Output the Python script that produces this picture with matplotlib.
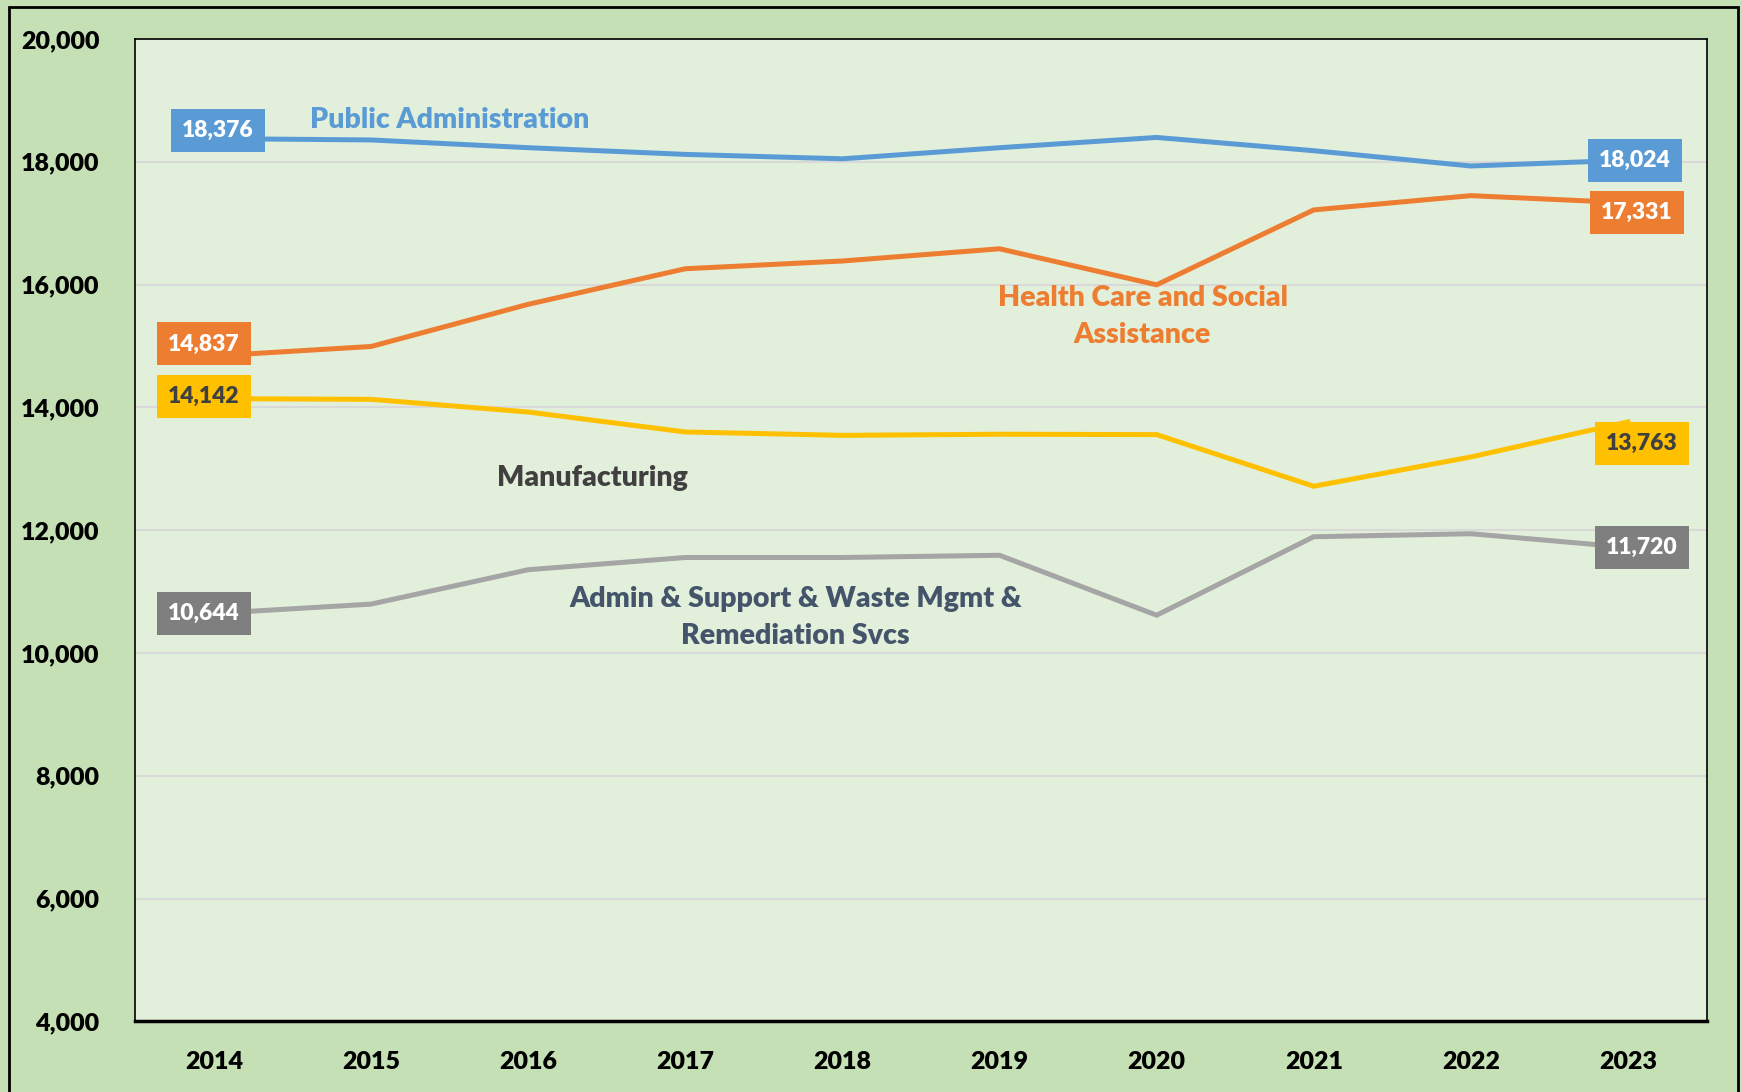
import matplotlib.pyplot as plt
from matplotlib.patches import Rectangle

years = ["2014", "2015", "2016", "2017", "2018", "2019", "2020", "2021", "2022", "2023"]
public_admin = [18376, 18354, 18228, 18119, 18047, 18228, 18395, 18179, 17930, 18024]
health_care = [14837, 14991, 15678, 16257, 16383, 16582, 15995, 17215, 17447, 17331]
manufacturing = [14142, 14130, 13924, 13599, 13544, 13562, 13556, 12715, 13192, 13763]
admin_support = [10644, 10796, 11356, 11555, 11555, 11591, 10615, 11893, 11942, 11720]

plt.rcParams["font.family"] = ["Lato", "DejaVu Sans"]
plt.rcParams["font.weight"] = "heavy"
W = "heavy"

fig = plt.figure(figsize=(17.41, 10.92), dpi=100, facecolor="#C5E0B4")
ax = fig.add_axes([0.0778, 0.0646, 0.9024, 0.8998])
ax.set_facecolor("#E2EFDA")

# outer frame
fig.patches.append(Rectangle((9 / 1741, -0.05), 1729 / 1741, 1.05 - 7 / 1092, transform=fig.transFigure,
                             fill=False, edgecolor="black", linewidth=2))

x = list(range(len(years)))
series = [
    (public_admin, "#5B9BD5", "#5B9BD5", "white", (4, 8), (7, 0)),
    (health_care, "#ED7D31", "#ED7D31", "white", (-10, 12), (9, -10)),
    (manufacturing, "#FFC000", "#FFC000", "#404040", (-10, 2), (14, -22)),
    (admin_support, "#A5A5A5", "#7F7F7F", "white", (-10, 0), (14, 0)),
]
for vals, lc, bc, tc, off_l, off_r in series:
    ax.plot(x, vals, color=lc, linewidth=3.6, solid_joinstyle="miter", zorder=3)
    for i, off in ((0, off_l), (len(vals) - 1, off_r)):
        ax.annotate(f"{vals[i]:,}", (x[i], vals[i]), xytext=off, textcoords="offset pixels",
                    ha="center", va="center", fontsize=16.5, fontweight=W, color=tc, zorder=5,
                    bbox=dict(boxstyle="square,pad=0.48", facecolor=bc, edgecolor="none"))

ax.text(1.50, 18680, "Public Administration", color="#5B9BD5", fontsize=20.5, fontweight=W,
        ha="center", va="center")
ax.text(5.91, 15479, "Health Care and Social\nAssistance", color="#ED7D31", fontsize=20.5,
        fontweight=W, ha="center", va="center", linespacing=1.5)
ax.text(2.41, 12857, "Manufacturing", color="#404040", fontsize=20.5, fontweight=W,
        ha="center", va="center")
ax.text(3.70, 10579, "Admin & Support & Waste Mgmt &\nRemediation Svcs", color="#44546A",
        fontsize=20.5, fontweight=W, ha="center", va="center", linespacing=1.5)

ax.set_xlim(-0.5, 9.5)
ax.set_ylim(4000, 20000)
ax.set_xticks(x)
ax.set_xticklabels(years)
ax.set_yticks(range(4000, 20001, 2000))
ax.set_yticklabels([f"{v:,}" for v in range(4000, 20001, 2000)])
ax.tick_params(axis="x", length=0, pad=21, labelsize=18)
ax.tick_params(axis="y", length=0, pad=26, labelsize=18)
for lab in ax.get_xticklabels() + ax.get_yticklabels():
    lab.set_fontweight(W)

ax.grid(axis="y", color="#D9D9D9", linewidth=1.5)
ax.set_axisbelow(True)
for side in ["top", "right", "left"]:
    ax.spines[side].set_color("black")
    ax.spines[side].set_linewidth(1.2)
ax.spines["bottom"].set_linewidth(2.5)

fig.savefig("out.png", dpi=100, facecolor=fig.get_facecolor())
plt.close(fig)
